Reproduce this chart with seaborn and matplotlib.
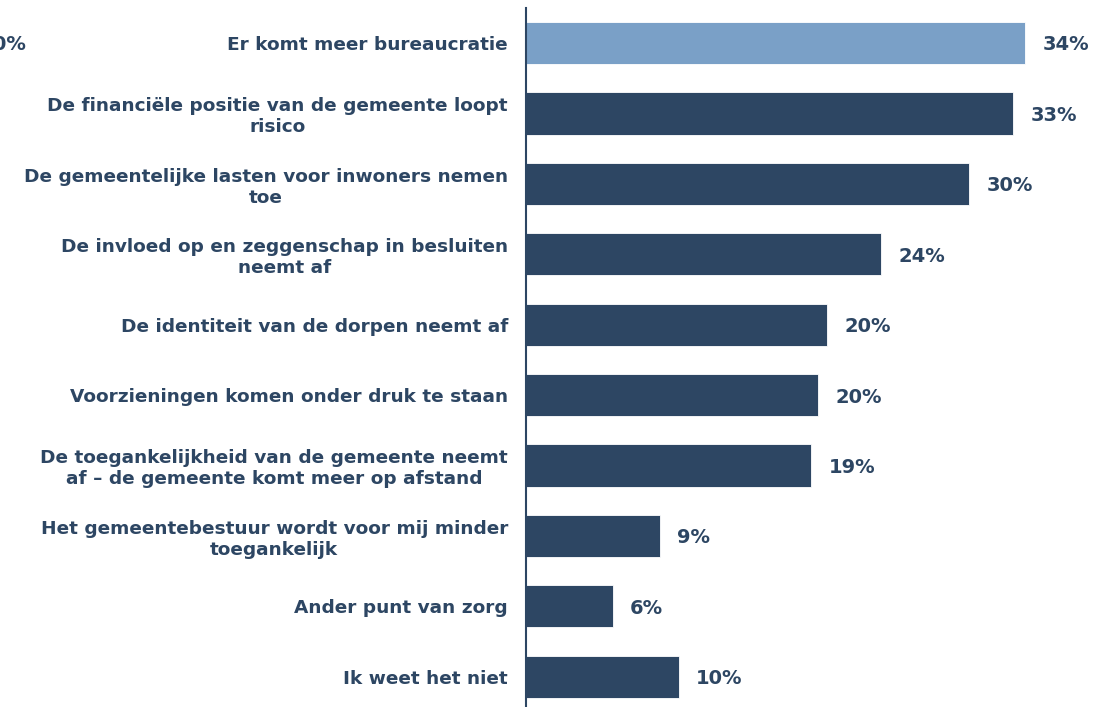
import matplotlib
matplotlib.use("Agg")
import matplotlib.pyplot as plt
import seaborn as sns
import pandas as pd

sns.set_theme(style="white")
plt.rcParams['font.family'] = ['DejaVu Sans']

categories = [
    "Er komt meer bureaucratie",
    "De financiële positie van de gemeente loopt\nrisico",
    "De gemeentelijke lasten voor inwoners nemen\ntoe",
    "De invloed op en zeggenschap in besluiten\nneemt af",
    "De identiteit van de dorpen neemt af",
    "Voorzieningen komen onder druk te staan",
    "De toegankelijkheid van de gemeente neemt\naf – de gemeente komt meer op afstand",
    "Het gemeentebestuur wordt voor mij minder\ntoegankelijk",
    "Ander punt van zorg",
    "Ik weet het niet",
]
values = [34.0, 33.2, 30.2, 24.2, 20.5, 19.9, 19.4, 9.1, 5.9, 10.4]
labels = ["34%", "33%", "30%", "24%", "20%", "20%", "19%", "9%", "6%", "10%"]
highlight = ["top", "rest", "rest", "rest", "rest", "rest", "rest", "rest", "rest", "rest"]

NAVY = "#2D4663"
LIGHT = "#7AA0C7"

df = pd.DataFrame({"categorie": categories, "waarde": values, "groep": highlight})

fig = plt.figure(figsize=(11.04, 7.07), dpi=100)
ax = fig.add_axes([0.4764, -0.007, 0.5236, 0.996])

sns.barplot(data=df, x="waarde", y="categorie", hue="groep",
            palette={"top": LIGHT, "rest": NAVY}, dodge=False, saturation=1,
            width=0.6, legend=False, ax=ax, edgecolor="white", linewidth=0.6)

ax.set_xlim(0, 39.37)
ax.set_ylim(9.5, -0.5)
ax.set_xlabel("")
ax.set_ylabel("")
ax.set_xticks([])
for s in ["top", "right", "bottom"]:
    ax.spines[s].set_visible(False)
ax.spines["left"].set_color(NAVY)
ax.spines["left"].set_linewidth(1.5)

ax.tick_params(axis="y", length=0, pad=13)
ax.set_yticks(range(len(categories)))
ax.set_yticklabels(categories, fontsize=13.3, fontweight="bold", color=NAVY,
                   multialignment="center")

for i, (v, lab) in enumerate(zip(values, labels)):
    ax.text(v + 1.2, i, lab, va="center_baseline", ha="left", fontsize=14,
            fontweight="bold", color=NAVY)

# partially clipped label at the left edge
fig.text(27 / 1104, 1 - 45 / 707, "100%", ha="right", va="center",
         fontsize=14, fontweight="bold", color=NAVY)

fig.savefig("out.png", dpi=100)
